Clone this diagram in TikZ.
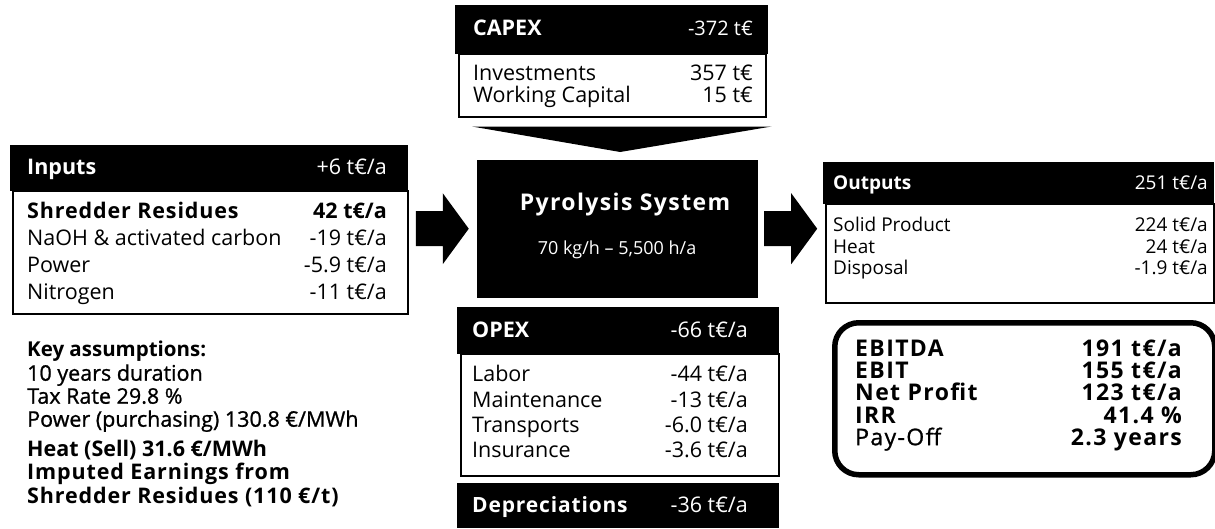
\documentclass[tikz,border=0pt]{standalone}
\usepackage{fontspec}
\setmainfont{Open Sans}
\usetikzlibrary{calc}
\newcommand{\spc}{\addfontfeature{LetterSpace=4}}
\newcommand{\wide}{\addfontfeature{LetterSpace=6}}
\newcommand{\med}{\addfontfeature{FakeBold=1}}
\newcommand{\fs}{\fontsize{21.5}{24}\selectfont}
\newcommand{\fo}{\fontsize{19}{22}\selectfont}
\newcommand{\fk}{\fontsize{23}{22}\selectfont}
\begin{document}
\begin{tikzpicture}[x=1pt,y=-1pt,
  hdr/.style={fill=black,draw=black,anchor=north west,inner sep=0pt},
  body/.style={fill=white,draw=black,line width=1.5pt,anchor=north west,inner sep=0pt},
  lt/.style={anchor=base west,yshift=-7.7pt,inner sep=0pt,font=\fs},
  rt/.style={anchor=base east,yshift=-7.7pt,inner sep=0pt,font=\fs},
  wlt/.style={lt,text=white},
  wrt/.style={rt,text=white},
  olt/.style={anchor=base west,yshift=-6.8pt,inner sep=0pt,font=\fo},
  ort/.style={anchor=base east,yshift=-6.8pt,inner sep=0pt,font=\fo},
  kpi/.style={inner sep=0pt,yshift=-8.2pt,font=\fk\bfseries\wide},
  blockarrow/.pic={\fill[black] (-27,-17.5) -- (0,-17.5) -- (0,-35.5) -- (26,0) -- (0,35.5) -- (0,17.5) -- (-27,17.5) -- cycle;}]
\useasboundingbox (0,0) rectangle (1215,528);

% ---------- Inputs ----------
\node[hdr,minimum width=397,minimum height=45] (inhead) at (10,145) {};
\node[body,minimum width=395,minimum height=123] (inbody) at (12,190) {};
\node[wlt,font=\fs\bfseries] (inT) at (27,167) {Inputs};
\node[wrt] (inV) at (387,167) {+6 t€/a};
\node[lt,font=\fs\bfseries\spc] (in1) at (27,211) {Shredder Residues};
\node[rt,font=\fs\bfseries] (in1v) at (387,211) {42 t€/a};
\node[lt] (in2) at (27,238) {NaOH \& activated carbon};
\node[rt] (in2v) at (387,238) {-19 t€/a};
\node[lt] (in3) at (27,265) {Power};
\node[rt] (in3v) at (387,265) {-5.9 t€/a};
\node[lt] (in4) at (27,292) {Nitrogen};
\node[rt] (in4v) at (387,292) {-11 t€/a};

% ---------- Key assumptions ----------
\node[lt,font=\fontsize{20.5}{24}\selectfont\bfseries] (ka0) at (27,349) {Key assumptions:};
\node[lt,font=\fs\med] (ka1) at (27,373) {10 years duration};
\node[lt,font=\fs\med] (ka2) at (27,396) {Tax Rate 29.8 \%};
\node[lt,font=\fs\med] (ka3) at (27,419) {Power (purchasing) 130.8 €/MWh};
\node[lt,font=\fs\bfseries] (ka4) at (27,449) {Heat (Sell) 31.6 €/MWh};
\node[lt,font=\fs\bfseries\spc] (ka5) at (27,472) {Imputed Earnings from};
\node[lt,font=\fs\bfseries\spc] (ka6) at (27,496) {Shredder Residues (110 €/t)};

% ---------- CAPEX ----------
\node[hdr,minimum width=312,minimum height=48] (caphead) at (455,5) {};
\node[body,minimum width=307,minimum height=63] (capbody) at (458,53) {};
\node[wlt,font=\fs\bfseries] (capT) at (473,28) {CAPEX};
\node[wrt,font=\fontsize{20}{24}\selectfont] (capV) at (753,28) {-372 t€};
\node[lt] (cap1) at (473,73) {Investments};
\node[rt] (cap1v) at (753,73) {357 t€};
\node[lt] (cap2) at (473,95) {Working Capital};
\node[rt] (cap2v) at (753,95) {15 t€};

% ---------- Pyrolysis system ----------
\node[hdr,minimum width=280,minimum height=137] (pyro) at (477,160) {};
\node[inner sep=0pt,text=white,font=\fontsize{23}{26}\selectfont\bfseries\addfontfeature{LetterSpace=6}] (pyT) at (625,205) {Pyrolysis System};
\node[inner sep=0pt,text=white,font=\fontsize{18}{22}\selectfont] (pyS) at (617,250) {70 kg/h – 5,500 h/a};

% CAPEX feeds the system
\fill[black] ($(capbody.south west)+(14,9)$) -- ($(capbody.south east)+(5,9)$) -- ($(pyro.north)+(3,-8)$) -- cycle;

% ---------- OPEX ----------
\node[hdr,minimum width=321,minimum height=46] (ophead) at (457,307) {};
\node[body,minimum width=318,minimum height=122] (opbody) at (460,353) {};
\node[wlt,font=\fs\bfseries] (opT) at (472,330) {OPEX};
\node[wrt] (opV) at (748,330) {-66 t€/a};
\node[lt] (op1) at (472,374) {Labor};
\node[rt] (op1v) at (748,374) {-44 t€/a};
\node[lt] (op2) at (472,400) {Maintenance};
\node[rt] (op2v) at (748,400) {-13 t€/a};
\node[lt] (op3) at (472,425) {Transports};
\node[rt] (op3v) at (748,425) {-6.0 t€/a};
\node[lt] (op4) at (472,450) {Insurance};
\node[rt] (op4v) at (748,450) {-3.6 t€/a};

% ---------- Depreciations ----------
\node[hdr,minimum width=321,minimum height=44] (dep) at (457,483) {};
\node[wlt,font=\fontsize{21}{24}\selectfont\bfseries\spc] (depT) at (472,505) {Depreciations};
\node[wrt] (depV) at (748,505) {-36 t€/a};

% ---------- Outputs ----------
\node[hdr,minimum width=390,minimum height=41] (outhead) at (823,162) {};
\node[body,minimum width=388,minimum height=99] (outbody) at (825,203) {};
\node[olt,text=white,font=\fo\bfseries] (outT) at (833,183) {Outputs};
\node[ort,text=white] (outV) at (1208,183) {251 t€/a};
\node[olt] (out1) at (833,225) {Solid Product};
\node[ort] (out1v) at (1208,225) {224 t€/a};
\node[olt] (out2) at (833,247) {Heat};
\node[ort] (out2v) at (1208,247) {24 t€/a};
\node[olt] (out3) at (833,268) {Disposal};
\node[ort] (out3v) at (1208,268) {-1.9 t€/a};

% ---------- Flow arrows ----------
\coordinate (la) at ($(inbody.east |- pyro.west)!0.5!(pyro.west)$);
\coordinate (ra) at ($(pyro.east)!0.5!(outbody.west |- pyro.east)$);
\pic at (la) {blockarrow};
\pic at (ra) {blockarrow};

% ---------- Key figures ----------
\node[draw=black,line width=5.5pt,rounded corners=24pt,anchor=north west,inner sep=0pt,
      minimum width=380,minimum height=152] (kpibox) at (832,320) {};
\node[kpi,anchor=base west] (k1) at (855,348) {EBITDA};
\node[kpi,anchor=base east] (k1v) at (1182,348) {191 t€/a};
\node[kpi,anchor=base west] (k2) at (855,370) {EBIT};
\node[kpi,anchor=base east] (k2v) at (1182,370) {155 t€/a};
\node[kpi,anchor=base west] (k3) at (855,392) {Net Profit};
\node[kpi,anchor=base east] (k3v) at (1182,392) {123 t€/a};
\node[kpi,anchor=base west] (k4) at (855,415) {IRR};
\node[kpi,anchor=base east] (k4v) at (1182,415) {41.4 \%};
\node[kpi,anchor=base west,font=\fk\med\wide] (k5) at (855,437) {Pay-Off};
\node[kpi,anchor=base east] (k5v) at (1182,437) {2.3 years};
\end{tikzpicture}
\end{document}
